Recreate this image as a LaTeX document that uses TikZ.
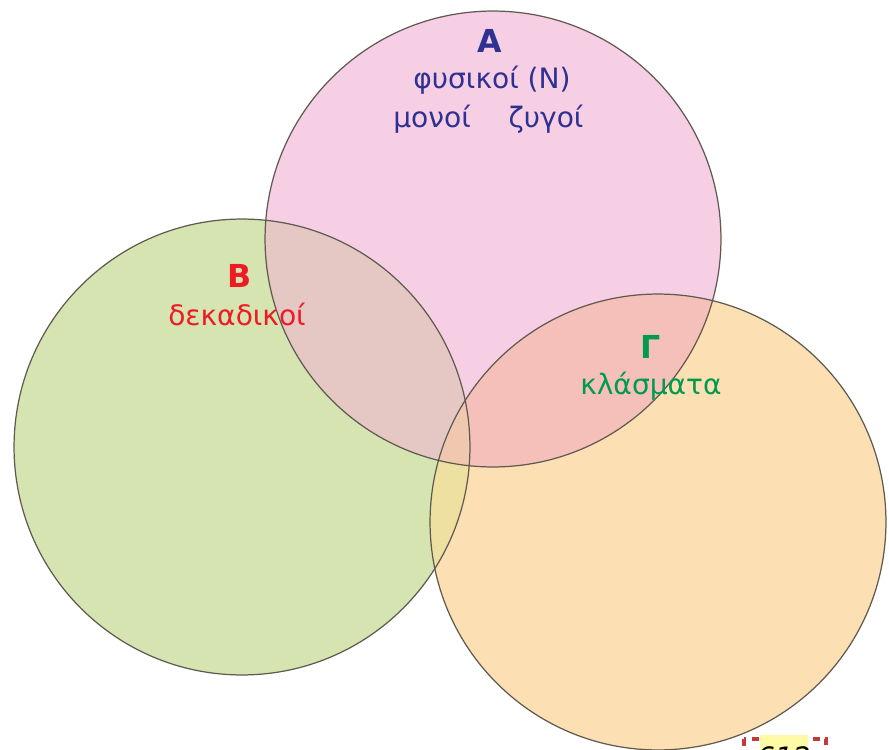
\documentclass[tikz,border=0pt]{standalone}
\usepackage{fontspec}
\setmainfont{DejaVu Sans}
\usepackage{xcolor}
\definecolor{setA}{RGB}{247,207,228}
\definecolor{setB}{RGB}{214,228,178}
\definecolor{setG}{RGB}{252,223,178}
\definecolor{setAB}{RGB}{229,200,196}
\definecolor{setAG}{RGB}{246,192,186}
\definecolor{setBG}{RGB}{238,224,160}
\definecolor{setABG}{RGB}{240,200,176}
\definecolor{txtA}{RGB}{46,49,146}
\definecolor{txtB}{RGB}{237,28,36}
\definecolor{txtG}{RGB}{0,154,78}
\definecolor{rimcol}{RGB}{95,90,80}

\begin{document}
\begin{tikzpicture}[x=0.02cm,y=-0.02cm,
    rim/.style={draw=rimcol, line width=0.7pt},
    settext/.style={font=\fontsize{16}{18}\selectfont, inner sep=0pt}]
    \useasboundingbox (0,0) rectangle (889,750);

    \coordinate (cA) at (493,239);
    \coordinate (cB) at (242,447);
    \coordinate (cG) at (658,522);
    \def\rad{4.56cm}

    % the three sets
    \fill[setB] (cB) circle (\rad);
    \fill[setA] (cA) circle (\rad);
    \fill[setG] (cG) circle (\rad);
    \begin{scope}
        \clip (cA) circle (\rad);
        \fill[setAB] (cB) circle (\rad);
        \fill[setAG] (cG) circle (\rad);
    \end{scope}
    \begin{scope}
        \clip (cB) circle (\rad);
        \fill[setBG] (cG) circle (\rad);
        \clip (cA) circle (\rad);
        \fill[setABG] (cG) circle (\rad);
    \end{scope}
    \draw[rim] (cA) circle (\rad);
    \draw[rim] (cB) circle (\rad);
    \draw[rim] (cG) circle (\rad);

    \node[settext, text=txtA, font=\fontsize{18}{20}\selectfont\bfseries] (nameA) at (490,41) {Α};
    \node[settext, text=txtA] (natA) at (492,80) {φυσικοί (Ν)};
    \node[settext, text=txtA] (oddA) at (432,119) {μονοί};
    \node[settext, text=txtA] (evenA) at (546,119) {ζυγοί};

    \node[settext, text=txtB, font=\fontsize{18}{20}\selectfont\bfseries] (nameB) at (240,276) {Β};
    \node[settext, text=txtB] (decB) at (237,314) {δεκαδικοί};

    \node[settext, text=txtG, font=\fontsize{18}{20}\selectfont\bfseries] (nameG) at (651,347) {Γ};
    \node[settext, text=txtG] (fracG) at (651,386) {κλάσματα};

    % page number tab, cut by the edge
    \begin{scope}
        \clip (0,0) rectangle (889,750);
        \draw[red!55!gray, dash pattern=on 4pt off 3pt, line width=2pt] (744,739) rectangle (826,775);
        \fill[yellow!35] (760,735) rectangle (808,775);
        \node[font=\fontsize{16}{18}\selectfont\itshape] (page) at (784,757) {612};
    \end{scope}
\end{tikzpicture}
\end{document}
